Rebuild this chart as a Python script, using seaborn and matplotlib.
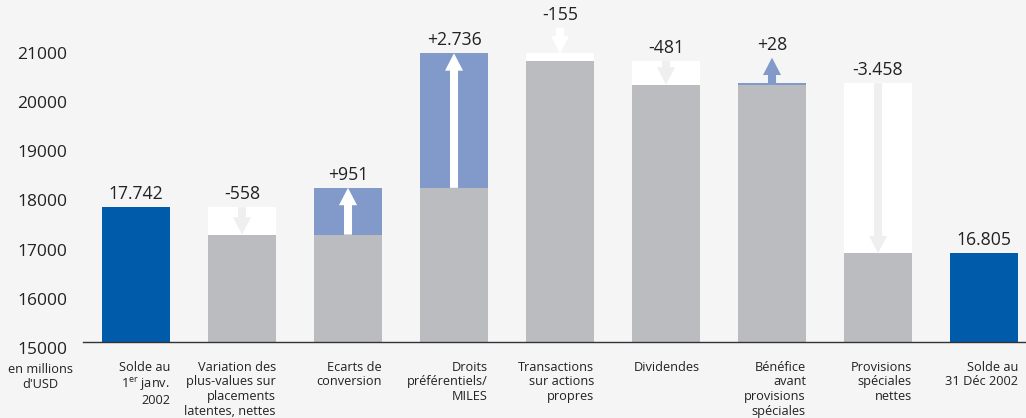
import matplotlib
matplotlib.use("Agg")
import matplotlib.pyplot as plt
import seaborn as sns
import pandas as pd
from matplotlib.patches import FancyArrowPatch
from matplotlib.transforms import ScaledTranslation

# ---------------- data ----------------
categories = [
    "Solde au\n1$^{\\mathregular{er}}$ janv.\n2002",
    "Variation des\nplus-values sur\nplacements\nlatentes, nettes",
    "Ecarts de\nconversion",
    "Droits\npréférentiels/\nMILES",
    "Transactions\nsur actions\npropres",
    "Dividendes",
    "Bénéfice\navant\nprovisions\nspéciales",
    "Provisions\nspéciales\nnettes",
    "Solde au\n31 Déc 2002",
]
opening = 17742
changes = [-558, 951, 2736, -155, -481, 28, -3458]
closing = 16805
value_labels = ["17.742", "-558", "+951", "+2.736", "-155", "-481", "+28", "-3.458", "16.805"]
y_ticks = [15000, 16000, 17000, 18000, 19000, 20000, 21000]
unit_label = "en millions\nd'USD"

# ---------------- style ----------------
BG = "#F5F5F5"
BLUE = "#005BAA"
GRAY = "#BBBCC0"
LBLUE = "#819AC9"
WHITE = "#FFFFFF"
ARROW_GRAY = "#EFEFEF"
TXT = "#222222"
FONT = ["Open Sans", "DejaVu Sans"]

sns.set_theme(style="white")
plt.rcParams["font.family"] = FONT
plt.rcParams["mathtext.default"] = "regular"

# ---------------- derive waterfall layers ----------------
upper, lower, upper_col, kinds, starts, ends = [], [], [], [], [], []
upper.append(opening); lower.append(0); upper_col.append(BLUE)
starts.append(None); ends.append(None); kinds.append("total")
level = opening
for d in changes:
    new = level + d
    upper.append(max(level, new)); lower.append(min(level, new))
    upper_col.append(LBLUE if d > 0 else WHITE)
    starts.append(level); ends.append(new)
    kinds.append("up" if d > 0 else "down")
    level = new
upper.append(closing); lower.append(0); upper_col.append(BLUE)
starts.append(None); ends.append(None); kinds.append("total")

df = pd.DataFrame({"cat": categories, "upper": upper, "lower": lower})

W, H, DPI = 10.26, 4.18, 100
fig = plt.figure(figsize=(W, H), dpi=DPI, facecolor=BG)
ax = fig.add_axes([83 / 1026, 76 / 418, 943 / 1026, 342 / 418])
ax.set_facecolor(BG)

BAR_W = 0.64
sns.barplot(data=df, x="cat", y="upper", hue="cat", palette=upper_col, legend=False,
            saturation=1, width=BAR_W, errorbar=None, linewidth=0, ax=ax)
sns.barplot(data=df, x="cat", y="lower", color=GRAY,
            saturation=1, width=BAR_W, errorbar=None, linewidth=0, ax=ax)

ax.set_ylim(15000, 15000 + 342 / 49.17 * 1000)
ax.set_xlim(-0.5, 8.396)
ax.set_xlabel("")
ax.set_ylabel("")

# arrows
OUT_LEN = 520
SMALL = 300
label_anchor = []
for i, k in enumerate(kinds):
    if k == "total":
        label_anchor.append(upper[i])
        continue
    s, e = starts[i], ends[i]
    d = e - s
    if abs(d) < SMALL:
        if d > 0:
            a0, a1, col = e, e + OUT_LEN, LBLUE
            label_anchor.append(e + OUT_LEN)
        else:
            a0, a1, col = s + OUT_LEN, s, WHITE
            label_anchor.append(s + OUT_LEN)
    else:
        a0, a1 = s, e
        col = WHITE if d > 0 else ARROW_GRAY
        label_anchor.append(max(s, e))
    arr = FancyArrowPatch((i, a0), (i, a1),
                          arrowstyle="simple,head_length=12.5,head_width=13,tail_width=5.8",
                          color=col, lw=0, shrinkA=0, shrinkB=0, zorder=5)
    ax.add_patch(arr)

# value labels
lab_off = ScaledTranslation(0, 8 / DPI, fig.dpi_scale_trans)
for i, (lab, yv) in enumerate(zip(value_labels, label_anchor)):
    ax.text(i, yv, lab, ha="center", va="baseline", fontsize=12.7, color=TXT,
            transform=ax.transData + lab_off, zorder=6)

# y ticks
ax.set_yticks(y_ticks)
ax.set_yticklabels([str(t) for t in y_ticks])
ax.tick_params(axis="y", length=0, pad=11.5, labelsize=12.5, labelcolor=TXT)
for t in ax.get_yticklabels():
    t.set_va("top")

# x tick labels right aligned at bar right edge
ax.tick_params(axis="x", length=0, pad=13.5, labelsize=9.2, labelcolor=TXT)
shift = ScaledTranslation((BAR_W / 2) * 106 / DPI, 0, fig.dpi_scale_trans)
for t in ax.get_xticklabels():
    t.set_ha("right")
    t.set_multialignment("right")
    t.set_linespacing(1.16)
    t.set_transform(t.get_transform() + shift)

# unit label
fig.text(40 / 1026, 1 - 363 / 418, unit_label, ha="center", va="top", fontsize=9.2,
         color=TXT, linespacing=1.16, multialignment="center")

for sp in ["top", "right", "left"]:
    ax.spines[sp].set_visible(False)
ax.spines["bottom"].set_color("#333333")
ax.spines["bottom"].set_linewidth(1.0)
ax.spines["bottom"].set_zorder(7)
ax.grid(False)

fig.savefig("out.png", dpi=DPI, facecolor=BG)
